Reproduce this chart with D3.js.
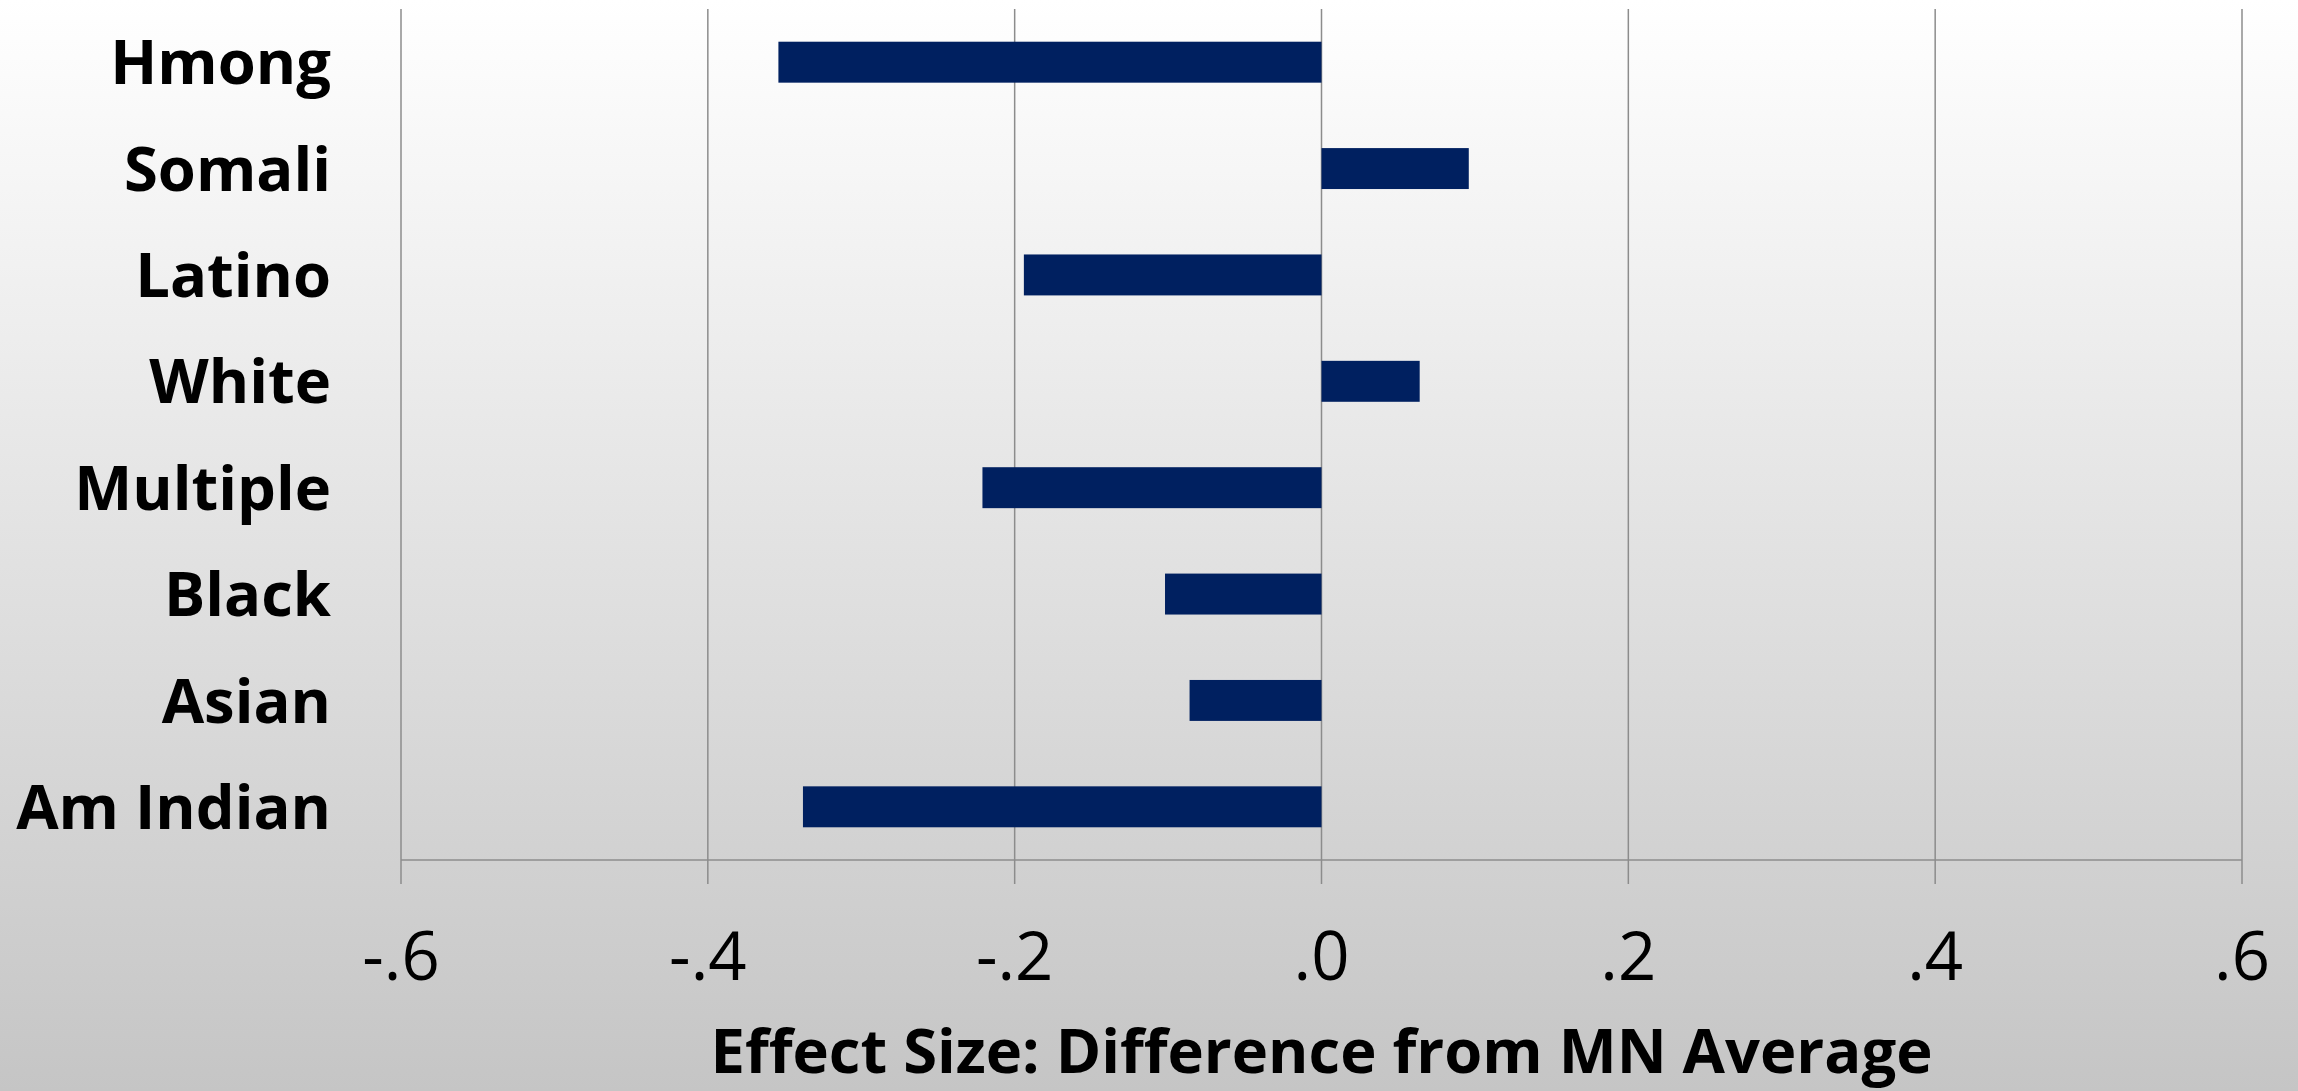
<!DOCTYPE html>
<html>
<head>
<meta charset="utf-8">
<script src="https://cdn.jsdelivr.net/npm/d3@7"></script>
<style>
  html, body { margin: 0; padding: 0; overflow: hidden; }
  svg { display: block; }
</style>
</head>
<body>
<svg id="chart" width="2298" height="1091"></svg>
<script>
const categories = ["Hmong", "Somali", "Latino", "White", "Multiple", "Black", "Asian", "Am Indian"];
const values = [-0.354, 0.096, -0.194, 0.064, -0.221, -0.102, -0.086, -0.338];
const tickValues = [-0.6, -0.4, -0.2, 0.0, 0.2, 0.4, 0.6];
const tickLabels = ["-.6", "-.4", "-.2", ".0", ".2", ".4", ".6"];
const axisTitle = "Effect Size: Difference from MN Average";

const W = 2298, H = 1091;
const svg = d3.select("#chart");

const defs = svg.append("defs");
const grad = defs.append("linearGradient").attr("id", "bg").attr("x1", 0).attr("y1", 0).attr("x2", 0).attr("y2", 1);
grad.append("stop").attr("offset", "0%").attr("stop-color", "#ffffff");
grad.append("stop").attr("offset", "100%").attr("stop-color", "#c5c5c5");
svg.append("rect").attr("width", W).attr("height", H).attr("fill", "url(#bg)");

const plot = { left: 401, right: 2242, top: 9, bottom: 860 };
const x = d3.scaleLinear().domain([-0.6, 0.6]).range([plot.left, plot.right]);
const y = d3.scaleBand().domain(categories).range([plot.top, plot.bottom])
  .paddingInner(0.615).paddingOuter(0.3075);

// gridlines + tick marks
svg.append("g").selectAll("line").data(tickValues).join("line")
  .attr("x1", d => x(d)).attr("x2", d => x(d))
  .attr("y1", plot.top).attr("y2", plot.bottom + 24)
  .attr("stroke", "#8c8c8c").attr("stroke-width", 1.5);

// axis line
svg.append("line")
  .attr("x1", plot.left).attr("x2", plot.right)
  .attr("y1", plot.bottom).attr("y2", plot.bottom)
  .attr("stroke", "#8c8c8c").attr("stroke-width", 1.5);

// bars
svg.append("g").selectAll("rect").data(categories).join("rect")
  .attr("x", (d, i) => Math.min(x(0), x(values[i])))
  .attr("width", (d, i) => Math.abs(x(values[i]) - x(0)))
  .attr("y", d => y(d))
  .attr("height", y.bandwidth())
  .attr("fill", "#002060");

// category labels
svg.append("g").selectAll("text").data(categories).join("text")
  .attr("x", 331)
  .attr("y", d => y(d) + y.bandwidth() / 2)
  .attr("dy", "0.36em")
  .attr("text-anchor", "end")
  .attr("font-family", "'Open Sans', sans-serif")
  .attr("font-weight", "bold")
  .attr("font-size", 61.5)
  .attr("fill", "#000")
  .text(d => d);

// tick labels
svg.append("g").selectAll("text").data(tickValues).join("text")
  .attr("x", d => x(d))
  .attr("y", 980)
  .attr("text-anchor", "middle")
  .attr("font-family", "'Open Sans', sans-serif")
  .attr("font-size", 67)
  .attr("fill", "#000")
  .text((d, i) => tickLabels[i]);

// axis title
svg.append("text")
  .attr("x", (plot.left + plot.right) / 2)
  .attr("y", 1073)
  .attr("text-anchor", "middle")
  .attr("font-family", "'Open Sans', sans-serif")
  .attr("font-weight", "bold")
  .attr("font-size", 61.5)
  .attr("fill", "#000")
  .text(axisTitle);
</script>
</body>
</html>
